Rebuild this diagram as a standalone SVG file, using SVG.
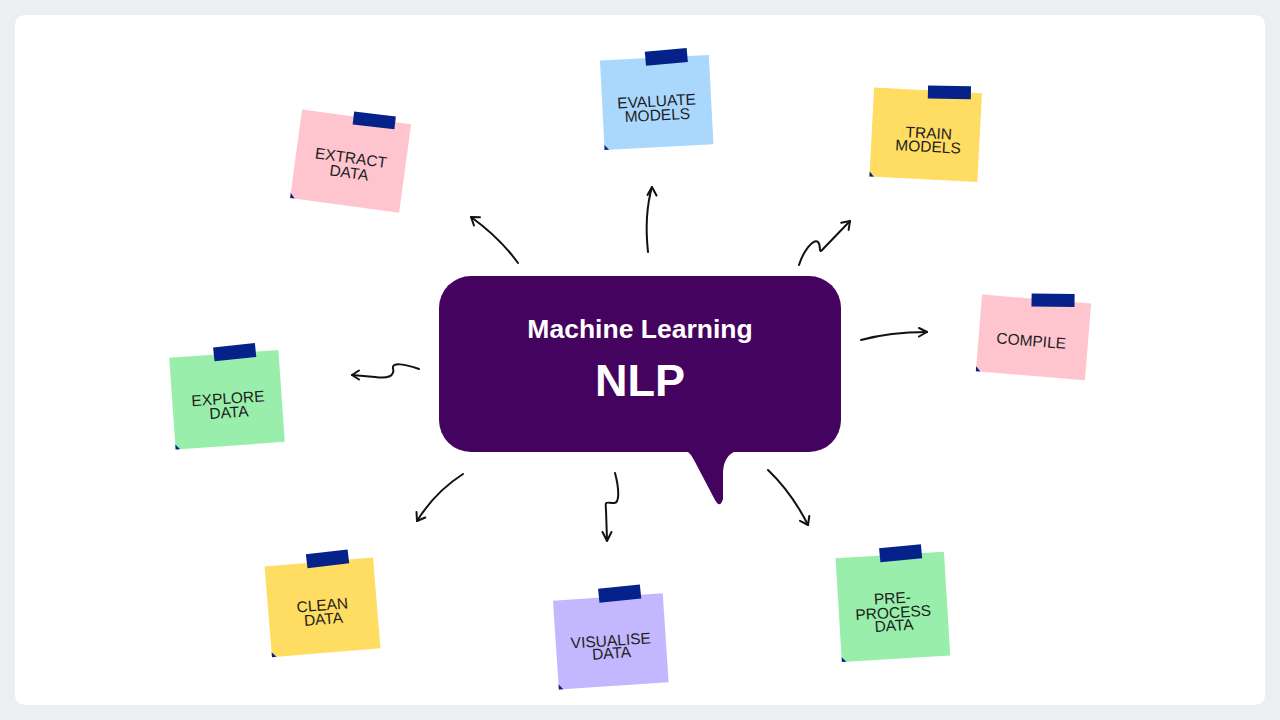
<svg xmlns="http://www.w3.org/2000/svg" width="1280" height="720" viewBox="0 0 1280 720">
<defs>
<style>
.note-txt{font-family:"Liberation Sans",Arial,sans-serif;font-size:15.5px;fill:#1e1e1e;text-anchor:middle}
.tape{fill:#04228a}
.fold{fill:#04228a}
.arrow{fill:none;stroke:#111;stroke-width:2;stroke-linecap:round;stroke-linejoin:round}
.pink{fill:#ffc5ce}
.blue{fill:#aad8fd}
.yellow{fill:#ffdc62}
.green{fill:#98eeaa}
.lav{fill:#c3b8ff}
</style>
</defs>
<rect width="1280" height="720" fill="#eceff2"/>
<rect x="15" y="15" width="1250" height="690" rx="10" fill="#ffffff"/>

<g id="hub">
<rect x="439" y="276" width="402" height="176" rx="32" fill="#44035e"/>
<path d="M686 450 Q691 454 694 460 L715 500 Q720 509 723 499 L723 472 Q724 453 740 450 Z" fill="#44035e"/>
<text x="640" y="338" text-anchor="middle" font-family="'Liberation Sans',Arial,sans-serif" font-weight="bold" font-size="26.5" fill="#ffffff">Machine Learning</text>
<text x="640" y="396" text-anchor="middle" font-family="'Liberation Sans',Arial,sans-serif" font-weight="bold" font-size="45" fill="#ffffff">NLP</text>
</g>

<g id="note-extract" transform="translate(350.6,161.1) rotate(7.7)">
<rect class="pink" x="-55" y="-44.6" width="110" height="89.2"/>
<rect class="tape" x="-3" y="-50" width="42" height="13" transform="rotate(-1 18 -44)"/>
<polygon class="fold" points="-55,39.6 -50.5,44.6 -55,44.6"/>
<text class="note-txt" x="0" y="2">EXTRACT</text>
<text class="note-txt" x="0" y="17">DATA</text>
</g>

<g id="note-evaluate" transform="translate(656.7,102.4) rotate(-3)">
<rect class="blue" x="-54.5" y="-44.7" width="109" height="89.4"/>
<rect class="tape" x="-9" y="-52" width="42" height="14" transform="rotate(-2 12 -45)"/>
<polygon class="fold" points="-54.5,39.7 -50,44.7 -54.5,44.7"/>
<text class="note-txt" x="0" y="4">EVALUATE</text>
<text class="note-txt" x="0" y="18">MODELS</text>
</g>

<g id="note-train" transform="translate(925.7,134.8) rotate(3)">
<rect class="yellow" x="-54" y="-44.5" width="108" height="89"/>
<rect class="tape" x="0" y="-50" width="43" height="13" transform="rotate(-2 21 -43)"/>
<polygon class="fold" points="-54,39.5 -49.5,44.5 -54,44.5"/>
<text class="note-txt" x="3" y="3.5">TRAIN</text>
<text class="note-txt" x="3" y="17">MODELS</text>
</g>

<g id="note-compile" transform="translate(1033.5,337.3) rotate(4.7)">
<rect class="pink" x="-54.7" y="-38.5" width="109.4" height="77"/>
<rect class="tape" x="-5" y="-45" width="43" height="13" transform="rotate(-4 16 -38)"/>
<polygon class="fold" points="-54.7,33.5 -50.2,38.5 -54.7,38.5"/>
<text class="note-txt" x="-2" y="9">COMPILE</text>
</g>

<g id="note-explore" transform="translate(227,399.8) rotate(-4)">
<rect class="green" x="-54.7" y="-46" width="109.4" height="92"/>
<rect class="tape" x="-10" y="-54" width="42" height="14" transform="rotate(-2 11 -47)"/>
<polygon class="fold" points="-54.7,41 -50.2,46 -54.7,46"/>
<text class="note-txt" x="1" y="4">EXPLORE</text>
<text class="note-txt" x="1" y="18">DATA</text>
</g>

<g id="note-clean" transform="translate(322.5,607.4) rotate(-4.7)">
<rect class="yellow" x="-54.4" y="-45.5" width="108.8" height="91"/>
<rect class="tape" x="-12" y="-55" width="42" height="14" transform="rotate(-2 9 -48)"/>
<polygon class="fold" points="-54.4,40.5 -49.9,45.5 -54.4,45.5"/>
<text class="note-txt" x="0" y="3">CLEAN</text>
<text class="note-txt" x="0" y="17">DATA</text>
</g>

<g id="note-visualise" transform="translate(610.8,641.4) rotate(-3.8)">
<rect class="lav" x="-55" y="-44.5" width="110" height="89"/>
<rect class="tape" x="-9" y="-54" width="42" height="14" transform="rotate(-2 12 -47)"/>
<polygon class="fold" points="-55,39.5 -50.5,44.5 -55,44.5"/>
<text class="note-txt" x="0" y="4.5">VISUALISE</text>
<text class="note-txt" x="0" y="17">DATA</text>
</g>

<g id="note-preprocess" transform="translate(892.9,606.9) rotate(-3.5)">
<rect class="green" x="-54.3" y="-52" width="108.6" height="104"/>
<rect class="tape" x="-10" y="-60" width="42" height="14" transform="rotate(-2 11 -53)"/>
<polygon class="fold" points="-54.3,47 -49.8,52 -54.3,52"/>
<text class="note-txt" x="0" y="-3.5">PRE-</text>
<text class="note-txt" x="0" y="11">PROCESS</text>
<text class="note-txt" x="0" y="24">DATA</text>
</g>

<g id="connectors">
<path class="arrow" d="M518 263 Q500 238 471 217"/>
<polyline class="arrow" points="474,225.5 471,217 480,217.2"/>

<path class="arrow" d="M648 252 Q644 215 652 187"/>
<polyline class="arrow" points="647.5,195 652,187 656.5,195.5"/>

<path class="arrow" d="M799 265 C803 252 813 238 818 242 C822 246 817 256 824 248 L850 221"/>
<polyline class="arrow" points="841.2,222.8 850,221 848.6,229.9"/>

<path class="arrow" d="M861 340 Q890 332 927 332"/>
<polyline class="arrow" points="919,328 927,332 919,336.5"/>

<path class="arrow" d="M419 369 C405 364 392 362 393 368 C395 376 388 379 375 377 L352 375"/>
<polyline class="arrow" points="359,370.5 352,375 359,379.5"/>

<path class="arrow" d="M463 474 Q435 492 417 521"/>
<polyline class="arrow" points="416.5,512 417,521 425.3,517.5"/>

<path class="arrow" d="M615 473 C619 488 620 503 614 503 C606 503 605 500 606 510 L607 540"/>
<polyline class="arrow" points="602.5,532 607,541 611.5,532"/>

<path class="arrow" d="M768 470 Q792 493 808 525"/>
<polyline class="arrow" points="800,520.8 808,525 809.3,516"/>
</g>
</svg>
